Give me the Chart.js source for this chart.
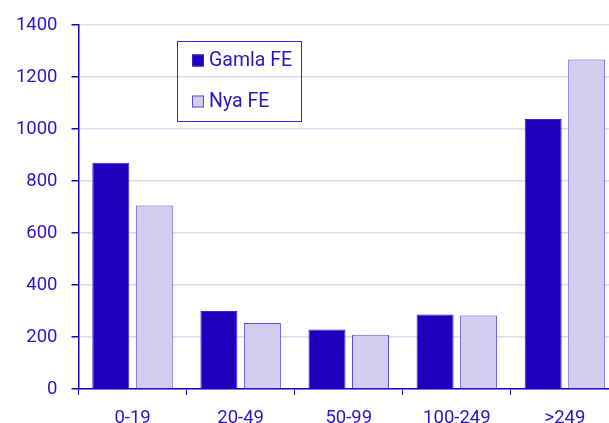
<!DOCTYPE html>
<html>
<head>
<meta charset="utf-8">
<script src="https://cdn.jsdelivr.net/npm/chart.js@4.4.1/dist/chart.umd.min.js"></script>
<style>
html,body{margin:0;padding:0;background:#fff;overflow:hidden;}
#wrap{position:absolute;left:0;top:0;width:620px;height:440px;}
</style>
</head>
<body>
<div id="wrap"><canvas id="c" width="620" height="440"></canvas></div>
<script>
const categories = ['0-19', '20-49', '50-99', '100-249', '>249'];
const gamlaFE = [870, 300, 229, 287, 1039];
const nyaFE = [706, 254, 209, 283, 1268];
const seriesNames = ['Gamla FE', 'Nya FE'];
const yTicks = [0, 200, 400, 600, 800, 1000, 1200, 1400];

const BLUE = '#1e00be';
const TEXT = '#2a14c8';
const LIGHT = '#d2cdf1';
const LIGHT_BORDER = '#5e4ae0';
const GRID = '#dcdaf3';
const FONT = 'Roboto';

const legendBox = {
  id: 'legendBox',
  afterDraw(chart) {
    const ctx = chart.ctx;
    ctx.save();
    const x0 = 177, y0 = 41, w = 124, h = 80;
    ctx.strokeStyle = '#3a22d6';
    ctx.lineWidth = 1;
    ctx.strokeRect(x0 + 0.5, y0 + 0.5, w, h);
    ctx.font = '19.5px ' + FONT;
    ctx.textBaseline = 'middle';
    ctx.textAlign = 'left';
    const rows = [60.5, 101.5];
    chart.data.datasets.forEach((ds, i) => {
      const cy = rows[i];
      ctx.fillStyle = ds.backgroundColor;
      ctx.fillRect(192, cy - 6, 12, 12);
      ctx.strokeStyle = ds.borderColor;
      ctx.lineWidth = 1;
      ctx.strokeRect(192.5, cy - 5.5, 11, 11);
      ctx.fillStyle = TEXT;
      ctx.fillText(ds.label, 209, cy + 1);
    });
    ctx.restore();
  }
};

new Chart(document.getElementById('c'), {
  type: 'bar',
  data: {
    labels: categories,
    datasets: [
      { label: seriesNames[0], data: gamlaFE, backgroundColor: BLUE, borderColor: '#3a22d0', borderWidth: 1 },
      { label: seriesNames[1], data: nyaFE, backgroundColor: LIGHT, borderColor: LIGHT_BORDER, borderWidth: 1 }
    ]
  },
  options: {
    responsive: false,
    animation: false,
    events: [],
    layout: { padding: { top: 20.5, right: 1, left: 0, bottom: 0 } },
    datasets: { bar: { categoryPercentage: 0.805, barPercentage: 0.85 } },
    plugins: { legend: { display: false }, tooltip: { enabled: false } },
    scales: {
      x: {
        grid: { display: true, drawOnChartArea: false, drawTicks: true, tickLength: 6, color: BLUE, lineWidth: 1 },
        border: { display: true, color: BLUE, width: 1.5 },
        ticks: { color: TEXT, font: { family: FONT, size: 18.5 }, padding: 12.5, maxRotation: 0, autoSkip: false },
        afterFit(s) { s.height = 51; }
      },
      y: {
        min: 0, max: 1400,
        afterBuildTicks(s) { s.ticks = yTicks.map(v => ({ value: v })); },
        grid: { color: GRID, lineWidth: 1.5, tickLength: 7, tickColor: BLUE, drawTicks: true },
        border: { display: true, color: BLUE, width: 1.5 },
        ticks: { color: TEXT, font: { family: FONT, size: 18.5 }, padding: 14, callback: v => String(v) },
        afterFit(s) { s.width = 78.5; }
      }
    }
  },
  plugins: [legendBox]
});
</script>
</body>
</html>
